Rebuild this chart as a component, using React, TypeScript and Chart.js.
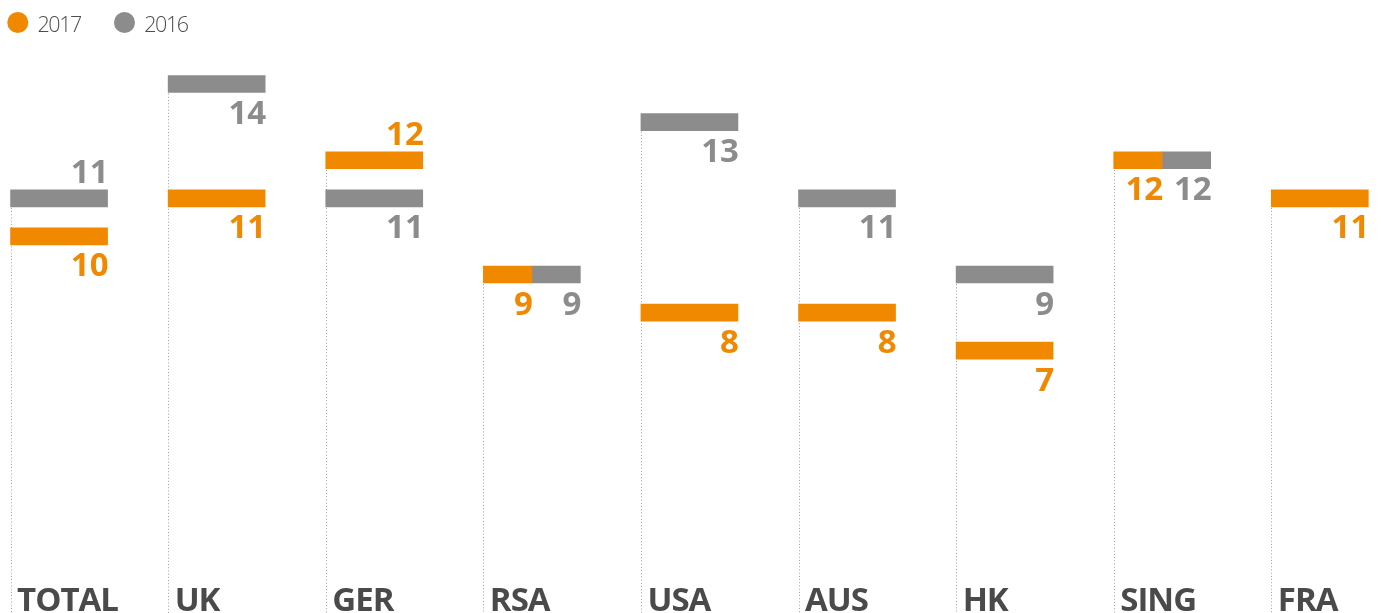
import React, { useEffect, useRef } from 'react';
import { Chart, registerables } from 'chart.js';

Chart.register(...registerables);

// ---- data ----
const categories: string[] = ['TOTAL', 'UK', 'GER', 'RSA', 'USA', 'AUS', 'HK', 'SING', 'FRA'];
const values2017: (number | null)[] = [10, 11, 12, 9, 8, 8, 7, 12, 11];
const values2016: (number | null)[] = [11, 14, 11, 9, 13, 11, 9, 12, null];
const seriesLabels: string[] = ['2017', '2016'];

// ---- styles / layout ----
const ORANGE = '#f08800';
const GRAY = '#8c8c8c';
const LABEL_DARK = '#4a4a4a';
const BAR_SPAN = 0.6155; // share of a column covered by a marker
const X_MIN = -0.067;
const X_MAX = 8.696;
const Y_MIN = 0.1155;
const Y_MAX = 16.205;
const BAR_H = 17;
const FONT = "'Open Sans', 'DejaVu Sans', sans-serif";

const seriesValues = [values2017, values2016];
const seriesColors = [ORANGE, GRAY];

function range(i: number, s: number): [number, number] {
  const own = seriesValues[s][i];
  const other = seriesValues[1 - s][i];
  if (other != null && own === other) {
    return s === 0 ? [i, i + BAR_SPAN / 2] : [i + BAR_SPAN / 2, i + BAR_SPAN];
  }
  return [i, i + BAR_SPAN];
}

function buildData(s: number) {
  const out: { x: [number, number]; y: number }[] = [];
  seriesValues[s].forEach((v, i) => {
    if (v != null) out.push({ x: range(i, s), y: v });
  });
  return out;
}

const overlayPlugin = {
  id: 'overlay',
  beforeDatasetsDraw(chart: any) {
    const { ctx, chartArea, scales } = chart;
    const x = scales.x;
    const y = scales.y;
    ctx.save();
    ctx.strokeStyle = '#a0a0a0';
    ctx.lineWidth = 1;
    ctx.setLineDash([1, 2.2]);
    categories.forEach((_, i) => {
      const vals = seriesValues.map((arr) => arr[i]).filter((v) => v != null) as number[];
      if (!vals.length) return;
      const top = Math.max(...vals);
      const px = Math.round(x.getPixelForValue(i)) + 0.5;
      ctx.beginPath();
      ctx.moveTo(px, y.getPixelForValue(top));
      ctx.lineTo(px, chartArea.bottom);
      ctx.stroke();
    });
    ctx.restore();
  },
  afterDatasetsDraw(chart: any) {
    const { ctx, chartArea, scales } = chart;
    const x = scales.x;
    const y = scales.y;
    ctx.save();
    // value labels
    ctx.font = `700 33px ${FONT}`;
    ctx.textAlign = 'right';
    ctx.textBaseline = 'alphabetic';
    seriesValues.forEach((arr, s) => {
      arr.forEach((v, i) => {
        if (v == null) return;
        const other = seriesValues[1 - s][i];
        const [, b] = range(i, s);
        const right = x.getPixelForValue(b) + 1;
        const yc = y.getPixelForValue(v);
        const above = other != null && v > other && v - other < 1.5;
        const base = above ? yc - BAR_H / 2 - 7 : yc + BAR_H / 2 + 31.5;
        ctx.fillStyle = seriesColors[s];
        ctx.fillText(String(v), right, base);
      });
    });
    // category labels
    ctx.textAlign = 'left';
    ctx.fillStyle = LABEL_DARK;
    ctx.font = `700 33px ${FONT}`;
    (ctx as any).letterSpacing = '-1px';
    categories.forEach((c, i) => {
      const px = x.getPixelForValue(i);
      ctx.fillText(c, px + 6.5, chartArea.bottom - 2);
    });
    // legend
    ctx.font = `300 21.5px ${FONT}`;
    (ctx as any).letterSpacing = '-1.4px';
    let lx = 7.3;
    chart.data.datasets.forEach((ds: any) => {
      ctx.fillStyle = ds.backgroundColor;
      ctx.beginPath();
      ctx.arc(lx + 10.5, 22.5, 10.5, 0, Math.PI * 2);
      ctx.fill();
      ctx.fillStyle = '#4d4d4d';
      ctx.fillText(ds.label, lx + 30.2, 31.7);
      lx = lx + 30.2 + ctx.measureText(ds.label).width + 33;
    });
    ctx.restore();
  },
};

export default function App() {
  const ref = useRef<HTMLCanvasElement | null>(null);
  useEffect(() => {
    document.body.style.margin = '0';
    if (!ref.current) return;
    const chart = new Chart(ref.current, {
      type: 'bar',
      data: {
        datasets: seriesLabels.map((label, s) => ({
          label,
          data: buildData(s) as any,
          backgroundColor: seriesColors[s],
          borderWidth: 0,
          grouped: false,
          maxBarThickness: BAR_H,
          barPercentage: 1,
          categoryPercentage: 1,
        })),
      },
      options: {
        indexAxis: 'y',
        animation: false,
        responsive: false,
        devicePixelRatio: 1,
        layout: { padding: 0 },
        plugins: { legend: { display: false }, tooltip: { enabled: false } },
        scales: {
          x: { type: 'linear', min: X_MIN, max: X_MAX, display: false, offset: false },
          y: {
            type: 'linear',
            min: Y_MIN,
            max: Y_MAX,
            display: false,
            offset: false,
            ticks: { stepSize: 1 },
          },
        },
      },
      plugins: [overlayPlugin],
    } as any);
    return () => chart.destroy();
  }, []);
  return (
    <div style={{ width: 1381, height: 613 }}>
      <canvas ref={ref} width={1381} height={613} style={{ display: 'block' }} />
    </div>
  );
}
